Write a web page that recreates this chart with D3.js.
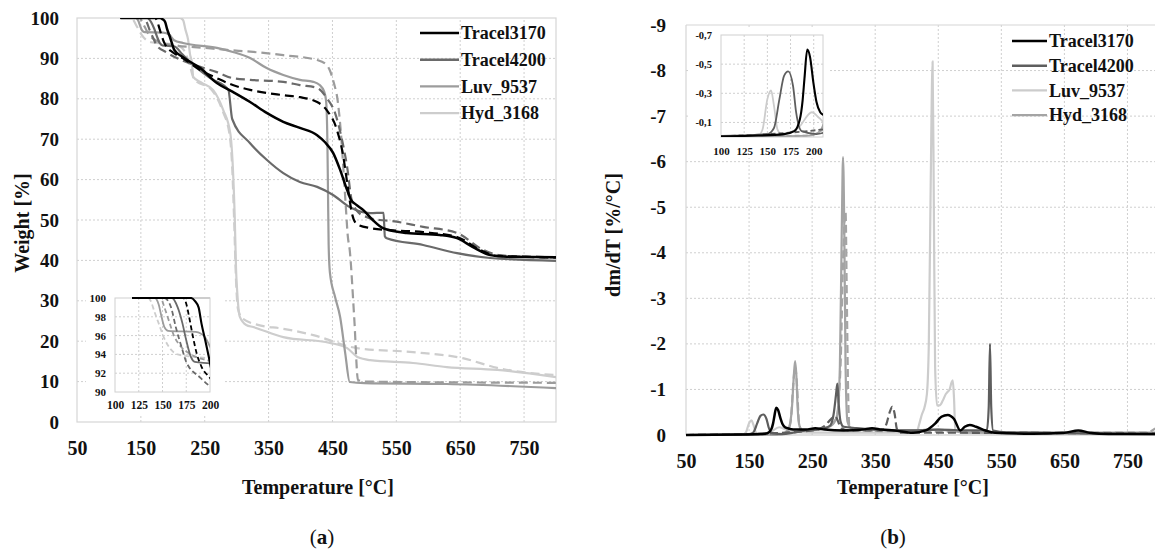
<!DOCTYPE html>
<html><head><meta charset="utf-8">
<script src="https://cdn.jsdelivr.net/npm/d3@7"></script>
<style>
body{margin:0;background:#fff}
svg{display:block}
text{font-family:"Liberation Serif","Times New Roman",serif;}
</style>
</head><body>
<svg id="c" width="1155" height="554"></svg>
<script>
// ---------------- DATA ----------------
const seriesNames = ["Tracel3170", "Tracel4200", "Luv_9537", "Hyd_3168"];

// Panel (a) TGA ticks
const tgaXTicks = [50, 150, 250, 350, 450, 550, 650, 750];
const tgaYTicks = [0, 10, 20, 30, 40, 50, 60, 70, 80, 90, 100];
const tgaInsetXTicks = [100, 125, 150, 175, 200];
const tgaInsetYTicks = [90, 92, 94, 96, 98, 100];

// Panel (b) DTG ticks
const dtgXTicks = [50, 150, 250, 350, 450, 550, 650, 750];
const dtgYTicks = [0, -1, -2, -3, -4, -5, -6, -7, -8, -9];
const dtgInsetXTicks = [100, 125, 150, 175, 200];
const dtgInsetYTicks = [-0.1, -0.3, -0.5, -0.7];
const dtgInsetYLabels = ["-0,1", "-0,3", "-0,5", "-0,7"];

// TGA: [temperature °C, weight %]
const tgaTracel3170 = [[118,100],[180,100],[184,99.7],[188,99],[191,97.3],[195,95.5],[198.6,93.8],[202,92.2],[216,90.3],[243,87.6],[269,83.9],[294,81.7],[321,79.2],[347,76.5],[373,74.3],[399,72.8],[426,71.0],[438,69.3],[451,66.6],[462,62.4],[473,57.4],[479,55],[487,53.8],[498,52.5],[513,50],[529,48],[566,46.8],[618,46.3],[645,45.5],[670,43.3],[697,41.3],[723,40.9],[800,40.8]];
const tgaTracel3170b = [[118,100],[172,100],[175,99.4],[178,98],[182,95.9],[186,94.1],[191,92.7],[199,91.6],[216,90],[243,87.1],[269,85.1],[294,83.4],[321,82.2],[373,80.9],[399,80.4],[426,79.2],[441,77.2],[457,72.3],[466,66.6],[474,58.2],[480,52],[488,49],[509,48],[540,47.5],[592,47],[645,45.8],[681,42.6],[707,41.1],[800,40.8]];
const tgaTracel4200 = [[118,100],[160,100],[166,99],[171,97.3],[175,95.5],[180,93.7],[184,93.2],[202,93.0],[215,91],[232,88.4],[260,85],[287,82.2],[293,75],[321,69],[347,64.9],[373,61.6],[399,59.4],[426,58.2],[451,56.2],[477,53.2],[509,51.7],[530,51.8],[532,46],[535,45.5],[592,43.8],[645,41.8],[697,40.6],[800,39.9]];
const tgaTracel4200b = [[118,100],[152,100],[159,99],[164,96.9],[170,94.8],[175,93.2],[190,91.5],[215,89.5],[243,87.9],[269,86.6],[294,85.1],[321,84.7],[373,84.2],[399,83.4],[426,82.7],[441,80.2],[454,76.5],[465,69.8],[473,63.1],[480,55],[490,52],[504,50.7],[524,50],[540,49.8],[592,48.3],[645,46.8],[686,42.6],[712,41.3],[800,40.6]];
const tgaLuv9537 = [[118,100],[142,100],[146,99.3],[149,98],[152,96.9],[156,96.5],[185,96.4],[195,95.8],[202,94.5],[216,93.8],[269,92.6],[294,91.6],[321,90.1],[347,87.6],[373,85.9],[399,84.7],[420,84.2],[430,83.4],[437,81.8],[440,79.5],[442,70],[443,57],[444,44],[446,37],[454,31],[462,26],[470,17],[477,9.9],[500,9.6],[629,9.4],[800,8.4]];
const tgaLuv9537b = [[118,100],[148,100],[152,99],[157,97.5],[162,96],[168,95],[180,94],[200,93.3],[250,92.6],[285,92.1],[326,91.6],[373,90.8],[426,89.6],[440,88.5],[446,87],[452,84],[458,79.7],[463,72],[467,63],[471,53],[474,46],[477,42.6],[484,26],[490,10.4],[500,10],[800,9.7]];
const tgaHyd3168 = [[118,100],[211,100],[216,99.5],[220,97],[224,94.6],[227,91],[230,88.9],[232,85.4],[245,84],[263,82.2],[279,77.2],[290,71.5],[294,63.1],[297,50.7],[299,38],[301,31.9],[305,26],[315,24],[326,23.5],[373,21],[446,19.6],[473,18.3],[490,16],[509,15.3],[576,14.6],[629,13.6],[708,12.9],[800,11.1]];
const tgaHyd3168b = [[118,100],[135,100],[137,99.8],[142,98.4],[146,97.3],[151,95.9],[159,94.5],[166,94],[200,93.5],[215,92.5],[222,90.5],[227,88],[233,85],[262,82],[278,77],[289,71],[293,63],[296,50],[299,35],[302,28],[310,25.5],[340,23.8],[368,23.2],[420,21.5],[488,18.3],[576,17.3],[654,15.8],[708,13.4],[800,11.6]];

// DTG: [temperature °C, dm/dT %/°C]
const dtgTracel3170 = [[50,0],[140,-0.01],[168,-0.02],[179,-0.04],[185,-0.12],[188,-0.25],[190,-0.4],[193,-0.6],[196,-0.55],[199.7,-0.37],[203,-0.24],[207,-0.17],[211,-0.15],[220,-0.12],[240,-0.12],[255,-0.15],[270,-0.12],[300,-0.1],[330,-0.12],[345,-0.15],[360,-0.12],[380,-0.1],[410,-0.05],[430,-0.1],[445,-0.25],[455,-0.4],[465,-0.44],[475,-0.35],[485,-0.1],[492,-0.18],[500,-0.22],[510,-0.18],[525,-0.1],[540,-0.05],[600,-0.03],[650,-0.05],[672,-0.1],[690,-0.05],[720,-0.02],[800,-0.02]];
const dtgTracel4200 = [[50,0],[150,-0.02],[157,-0.06],[163,-0.26],[168,-0.42],[172.5,-0.45],[177.7,-0.35],[181,-0.17],[187,-0.04],[203,-0.02],[220,-0.05],[240,-0.1],[260,-0.12],[278,-0.2],[284,-0.45],[288,-0.9],[290,-1.13],[292,-0.7],[295,-0.3],[300,-0.18],[320,-0.15],[350,-0.12],[400,-0.1],[450,-0.12],[500,-0.1],[527,-0.1],[530,-0.6],[532,-2.0],[534,-0.6],[537,-0.1],[560,-0.06],[600,-0.05],[700,-0.03],[800,-0.02]];
const dtgTracel4200b = [[50,0],[150,-0.02],[250,-0.1],[270,-0.2],[280,-0.35],[287,-0.42],[291,-0.3],[296,-0.15],[310,-0.1],[360,-0.1],[368,-0.25],[373,-0.5],[377,-0.62],[381,-0.45],[384,-0.15],[388,-0.05],[420,-0.05],[800,-0.03]];
const dtgLuv9537 = [[50,0],[140,-0.01],[144.7,-0.05],[150,-0.26],[154,-0.32],[157,-0.22],[161,-0.05],[165,-0.02],[183,-0.06],[198,-0.17],[206,-0.13],[215,-0.08],[250,-0.05],[300,-0.05],[350,-0.05],[400,-0.05],[416,-0.08],[420,-0.25],[424,-0.45],[428,-0.6],[432,-0.9],[435,-2],[438,-5.5],[441,-8.2],[443,-5],[445,-1.5],[448,-0.65],[452,-0.65],[457,-0.75],[462,-0.9],[465,-0.95],[468,-1.0],[471,-1.15],[473,-1.2],[475,-0.8],[477,-0.1],[490,-0.05],[550,-0.04],[800,-0.02]];
const dtgHyd3168 = [[50,0],[195,-0.01],[205,-0.03],[213,-0.15],[218,-0.6],[221,-1.3],[223,-1.62],[225,-1.3],[227,-0.6],[230,-0.2],[235,-0.1],[260,-0.12],[280,-0.2],[290,-0.45],[294,-1.5],[297,-4.5],[299,-6.1],[301,-4.5],[303,-1.5],[306,-0.3],[312,-0.15],[350,-0.12],[400,-0.1],[450,-0.12],[500,-0.05],[600,-0.05],[800,-0.05]];
const dtgHyd3168b = [[50,0],[190,-0.01],[210,-0.05],[216,-0.3],[220,-1.1],[223,-1.5],[226,-1.1],[229,-0.3],[233,-0.1],[270,-0.15],[288,-0.35],[295,-1.5],[299,-3.8],[303,-4.9],[305,-3],[307,-1],[309,-0.2],[320,-0.1],[400,-0.08],[780,-0.05],[795,-0.15],[800,-0.2]];

// ---------------- DRAWING ----------------
const svg = d3.select("#c");
const FONT = '"Liberation Serif","Times New Roman",serif';

const xA = d3.scaleLinear().domain([50, 800]).range([77, 556]);
const yA = d3.scaleLinear().domain([0, 100]).range([422, 18]);
const xAi = d3.scaleLinear().domain([100, 200]).range([115, 210]);
const yAi = d3.scaleLinear().domain([90, 100]).range([392, 298]);
const xB = d3.scaleLinear().domain([50, 800]).range([686, 1159]);
const yB = d3.scaleLinear().domain([0, -9]).range([435, 25]);
const xBi = d3.scaleLinear().domain([100, 210]).range([721, 823]);
const yBi = d3.scaleLinear().domain([0, -0.7]).range([137, 35]);

const colA = {"Tracel3170":"#000000","Tracel4200":"#6a6a6a","Luv_9537":"#9c9c9c","Hyd_3168":"#cdcdcd"};
const colB = {"Tracel3170":"#000000","Tracel4200":"#5e5e5e","Luv_9537":"#cccccc","Hyd_3168":"#a4a4a4"};

const tgaSeries = [
  {name:"Hyd_3168", data:tgaHyd3168b, dash:true},
  {name:"Hyd_3168", data:tgaHyd3168, dash:false},
  {name:"Luv_9537", data:tgaLuv9537b, dash:true},
  {name:"Luv_9537", data:tgaLuv9537, dash:false},
  {name:"Tracel4200", data:tgaTracel4200b, dash:true},
  {name:"Tracel4200", data:tgaTracel4200, dash:false},
  {name:"Tracel3170", data:tgaTracel3170b, dash:true},
  {name:"Tracel3170", data:tgaTracel3170, dash:false}
];
const dtgSeries = [
  {name:"Luv_9537", data:dtgLuv9537, dash:false},
  {name:"Hyd_3168", data:dtgHyd3168b, dash:true},
  {name:"Hyd_3168", data:dtgHyd3168, dash:false},
  {name:"Tracel4200", data:dtgTracel4200b, dash:true},
  {name:"Tracel4200", data:dtgTracel4200, dash:false},
  {name:"Tracel3170", data:dtgTracel3170, dash:false}
];

const defs = svg.append("defs");
function clip(id, x0, y0, x1, y1) {
  defs.append("clipPath").attr("id", id).append("rect")
    .attr("x", x0).attr("y", y0).attr("width", x1 - x0).attr("height", y1 - y0);
  return "url(#" + id + ")";
}

function grid(g, xs, ys, xv, yv) {
  const [x0, x1] = xs.range(); const [y0, y1] = ys.range();
  g.selectAll(null).data(xv).join("line")
    .attr("x1", d => xs(d)).attr("x2", d => xs(d)).attr("y1", y0).attr("y2", y1)
    .attr("stroke", "#cfcfcf").attr("stroke-width", 1).attr("stroke-dasharray", "2,2");
  g.selectAll(null).data(yv).join("line")
    .attr("y1", d => ys(d)).attr("y2", d => ys(d)).attr("x1", x0).attr("x2", x1)
    .attr("stroke", "#cfcfcf").attr("stroke-width", 1).attr("stroke-dasharray", "2,2");
}

function styleAxis(g, size) {
  g.attr("font-family", FONT).attr("font-size", size).attr("font-weight", "bold");
  g.select(".domain").remove();
  g.selectAll(".tick line").remove();
  g.selectAll("text").attr("fill", "#111");
}

function drawLines(g, series, xs, ys, colors, width, dashArr, clipUrl) {
  const line = d3.line().x(d => xs(d[0])).y(d => ys(d[1])).curve(d3.curveMonotoneX);
  const lg = g.append("g").attr("clip-path", clipUrl);
  series.forEach(s => {
    lg.append("path").attr("d", line(s.data)).attr("fill", "none")
      .attr("stroke", colors[s.name])
      .attr("stroke-width", s.name === "Tracel3170" && !s.dash ? width + 0.3 : width)
      .attr("stroke-linejoin", "round")
      .attr("stroke-dasharray", s.dash ? dashArr : null);
  });
}

// ======== Panel (a) ========
const gA = svg.append("g");
grid(gA, xA, yA, [150, 250, 350, 450, 550, 650, 750], [10, 20, 30, 40, 50, 60, 70, 80, 90]);
gA.append("rect").attr("x", 77).attr("y", 18).attr("width", 556 - 77).attr("height", 422 - 18)
  .attr("fill", "none").attr("stroke", "#d6d6d6").attr("stroke-width", 1.2);
drawLines(gA, tgaSeries, xA, yA, colA, 2.2, "9,5", clip("clipA", 77, 18, 556, 422));

gA.append("g").attr("transform", "translate(0,422)")
  .call(d3.axisBottom(xA).tickValues(tgaXTicks).tickSize(0).tickPadding(19).tickFormat(d3.format("d")))
  .call(g => styleAxis(g, 20));
gA.append("g").attr("transform", "translate(77,0)")
  .call(d3.axisLeft(yA).tickValues(tgaYTicks).tickSize(0).tickPadding(18).tickFormat(d3.format("d")))
  .call(g => styleAxis(g, 19));

gA.append("text").attr("x", 318).attr("y", 494).attr("text-anchor", "middle")
  .attr("font-size", 20).attr("font-weight", "bold").attr("fill", "#111").text("Temperature [°C]");
gA.append("text").attr("transform", "translate(29,223) rotate(-90)").attr("text-anchor", "middle")
  .attr("font-size", 20).attr("font-weight", "bold").attr("fill", "#111").text("Weight [%]");

// legend (a)
const legA = gA.append("g");
seriesNames.forEach((n, i) => {
  const y = 33 + i * 26.7;
  legA.append("line").attr("x1", 420).attr("x2", 459).attr("y1", y).attr("y2", y)
    .attr("stroke", colA[n]).attr("stroke-width", 2.4);
  legA.append("text").attr("x", 461).attr("y", y).attr("dy", "0.34em")
    .attr("font-size", 18).attr("font-weight", "bold").attr("fill", "#111").text(n);
});

// inset (a)
const gAi = gA.append("g");
gAi.append("rect").attr("x", 86).attr("y", 291).attr("width", 137).attr("height", 124).attr("fill", "#fff");
grid(gAi, xAi, yAi, [125, 150, 175], [92, 94, 96, 98]);
gAi.append("rect").attr("x", 115).attr("y", 298).attr("width", 95).attr("height", 94)
  .attr("fill", "none").attr("stroke", "#d0d0d0").attr("stroke-width", 1);
drawLines(gAi, tgaSeries, xAi, yAi, colA, 1.8, "5,3", clip("clipAi", 115, 297, 210, 392));
gAi.append("g").attr("transform", "translate(0,392)")
  .call(d3.axisBottom(xAi).tickValues(tgaInsetXTicks).tickSize(0).tickPadding(9).tickFormat(d3.format("d")))
  .call(g => styleAxis(g, 11.5));
gAi.append("g").attr("transform", "translate(115,0)")
  .call(d3.axisLeft(yAi).tickValues(tgaInsetYTicks).tickSize(0).tickPadding(9).tickFormat(d3.format("d")))
  .call(g => styleAxis(g, 11));

// ======== Panel (b) ========
const gB = svg.append("g");
grid(gB, xB, yB, [150, 250, 350, 450, 550, 650, 750], [-1, -2, -3, -4, -5, -6, -7, -8]);
gB.append("line").attr("x1", 686).attr("x2", 1159).attr("y1", 25).attr("y2", 25).attr("stroke", "#d6d6d6").attr("stroke-width", 1.2);
gB.append("line").attr("x1", 686).attr("x2", 686).attr("y1", 25).attr("y2", 435).attr("stroke", "#d6d6d6").attr("stroke-width", 1.2);
gB.append("line").attr("x1", 686).attr("x2", 1159).attr("y1", 435).attr("y2", 435).attr("stroke", "#c4c4c4").attr("stroke-width", 1.2);
drawLines(gB, dtgSeries, xB, yB, colB, 2.2, "8,4", clip("clipB", 686, 20, 1155, 437));

gB.append("g").attr("transform", "translate(0,435)")
  .call(d3.axisBottom(xB).tickValues(dtgXTicks).tickSize(0).tickPadding(19).tickFormat(d3.format("d")))
  .call(g => styleAxis(g, 20));
gB.append("g").attr("transform", "translate(686,0)")
  .call(d3.axisLeft(yB).tickValues(dtgYTicks).tickSize(0).tickPadding(20).tickFormat(d => String(d)))
  .call(g => styleAxis(g, 19));

gB.append("text").attr("x", 913).attr("y", 494).attr("text-anchor", "middle")
  .attr("font-size", 20).attr("font-weight", "bold").attr("fill", "#111").text("Temperature [°C]");
gB.append("text").attr("transform", "translate(620,235) rotate(-90)").attr("text-anchor", "middle")
  .attr("font-size", 20).attr("font-weight", "bold").attr("fill", "#111").text("dm/dT [%/°C]");

// legend (b)
const legB = gB.append("g");
seriesNames.forEach((n, i) => {
  const y = 41 + i * 24.7;
  legB.append("line").attr("x1", 1012).attr("x2", 1047).attr("y1", y).attr("y2", y)
    .attr("stroke", colB[n]).attr("stroke-width", 2.4);
  legB.append("text").attr("x", 1049).attr("y", y).attr("dy", "0.34em")
    .attr("font-size", 18).attr("font-weight", "bold").attr("fill", "#111").text(n);
});

// inset (b)
const gBi = gB.append("g");
gBi.append("rect").attr("x", 688).attr("y", 27).attr("width", 142).attr("height", 131).attr("fill", "#fff");
grid(gBi, xBi, yBi, [125, 150, 175, 200], [-0.1, -0.3, -0.5]);
gBi.append("rect").attr("x", 721).attr("y", 35).attr("width", 102).attr("height", 102)
  .attr("fill", "none").attr("stroke", "#d0d0d0").attr("stroke-width", 1);
drawLines(gBi, dtgSeries, xBi, yBi, colB, 1.8, "5,3", clip("clipBi", 721, 35, 823, 137));
gBi.append("g").attr("transform", "translate(0,137)")
  .call(d3.axisBottom(xBi).tickValues(dtgInsetXTicks).tickSize(0).tickPadding(10).tickFormat(d3.format("d")))
  .call(g => styleAxis(g, 11));
gBi.append("g").attr("transform", "translate(721,0)")
  .call(d3.axisLeft(yBi).tickValues(dtgInsetYTicks).tickSize(0).tickPadding(9).tickFormat((d, i) => dtgInsetYLabels[i]))
  .call(g => styleAxis(g, 10.5));

// panel captions
[["a", 322], ["b", 893]].forEach(([t, x]) => {
  const tx = svg.append("text").attr("x", x).attr("y", 544).attr("text-anchor", "middle")
    .attr("font-size", 21).attr("fill", "#111");
  tx.append("tspan").text("(");
  tx.append("tspan").attr("font-weight", "bold").text(t);
  tx.append("tspan").text(")");
});
</script>
</body></html>
